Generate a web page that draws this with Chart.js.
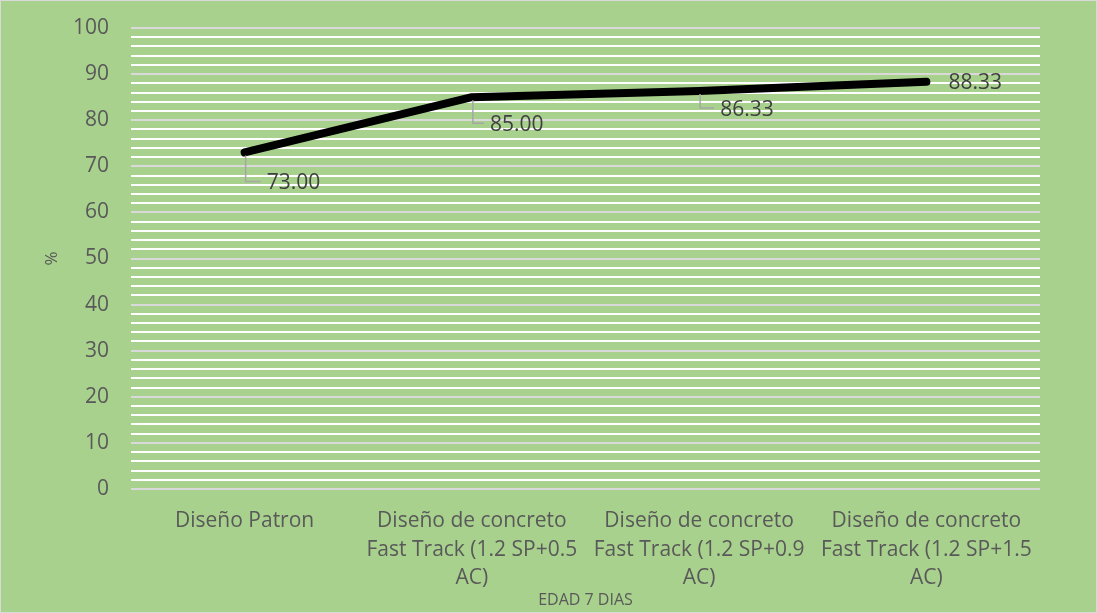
<!DOCTYPE html>
<html>
<head>
<meta charset="utf-8">
<script src="https://cdn.jsdelivr.net/npm/chart.js@4.4.1/dist/chart.umd.min.js"></script>
<style>
  html, body { margin: 0; padding: 0; background: #a9d18e; }
  #wrap { width: 1097px; height: 613px; }
</style>
</head>
<body>
<div id="wrap"><canvas id="c"></canvas></div>
<script>
const categories = [
    'Diseño Patron',
    ['Diseño de concreto', 'Fast Track (1.2 SP+0.5', 'AC)'],
    ['Diseño de concreto', 'Fast Track (1.2 SP+0.9', 'AC)'],
    ['Diseño de concreto', 'Fast Track (1.2 SP+1.5', 'AC)']
];
const values = [73.00, 85.00, 86.33, 88.33];
const yTicks = [0, 10, 20, 30, 40, 50, 60, 70, 80, 90, 100];

const FONT = "'Open Sans', sans-serif";

// fondo verde y borde del grafico
const bgPlugin = {
    id: 'bg',
    beforeDraw(chart) {
        const ctx = chart.ctx;
        ctx.save();
        ctx.fillStyle = '#a9d18e';
        ctx.fillRect(0, 0, chart.width, chart.height);
        ctx.strokeStyle = '#d9d9d9';
        ctx.lineWidth = 1;
        ctx.strokeRect(0.5, 0.5, chart.width - 1, chart.height - 1);
        ctx.restore();
    }
};

// etiquetas de datos con linea guia (como en Excel)
const labelOffsets = [[22, 31], [18, 28], [21, 19], [22, 1]];
const dataLabels = {
    id: 'dataLabels',
    afterDatasetsDraw(chart) {
        const ctx = chart.ctx;
        const meta = chart.getDatasetMeta(0);
        ctx.save();
        ctx.font = '21px ' + FONT;
        ctx.textBaseline = 'middle';
        ctx.textAlign = 'left';
        meta.data.forEach((pt, i) => {
            const [dx, dy] = labelOffsets[i];
            const x = pt.x, y = pt.y;
            if (dy > 10) {
                ctx.strokeStyle = '#a6a6a6';
                ctx.lineWidth = 1.5;
                ctx.beginPath();
                ctx.moveTo(x + 1, y + 3);
                ctx.lineTo(x + 1, y + dy - 2);
                ctx.lineTo(x + dx - 6, y + dy - 2);
                ctx.stroke();
            }
            ctx.fillStyle = '#404040';
            ctx.fillText(values[i].toFixed(2), x + dx, y + dy);
        });
        ctx.restore();
    }
};

const ctx = document.getElementById('c').getContext('2d');
new Chart(ctx, {
    type: 'line',
    data: {
        labels: categories,
        datasets: [{
            data: values,
            borderColor: '#000000',
            borderWidth: 8,
            borderCapStyle: 'round',
            borderJoinStyle: 'round',
            pointRadius: 0,
            tension: 0,
            fill: false
        }]
    },
    options: {
        responsive: true,
        maintainAspectRatio: false,
        animation: false,
        layout: { padding: { left: 30, right: 57, top: 28, bottom: 3 } },
        plugins: {
            legend: { display: false },
            tooltip: { enabled: false }
        },
        scales: {
            x: {
                offset: true,
                grid: { display: false, drawTicks: false },
                border: { display: false },
                ticks: {
                    color: '#595959',
                    font: { family: FONT, size: 21, lineHeight: 1.35 },
                    padding: 18,
                    maxRotation: 0,
                    autoSkip: false
                },
                title: {
                    display: true,
                    text: 'EDAD 7 DIAS',
                    color: '#595959',
                    font: { family: FONT, size: 16 },
                    padding: 0
                },
                afterFit(s) {
                    s.height = 613 - 489 - 3;
                    s.paddingLeft = 0; s.paddingRight = 0;
                }
            },
            y: {
                min: 0,
                max: 100,
                grid: {
                    drawTicks: false,
                    lineWidth: 2,
                    color: c => (c.tick && c.tick.value % 10 === 0) ? '#d9d9d9' : '#ffffff'
                },
                border: { display: false },
                afterBuildTicks(s) {
                    const t = [];
                    for (let v = 0; v <= 100; v += 2) t.push({ value: v });
                    s.ticks = t;
                },
                ticks: {
                    autoSkip: false,
                    color: '#595959',
                    font: { family: FONT, size: 21 },
                    padding: 22,
                    callback: v => yTicks.includes(v) ? String(v) : ''
                },
                title: {
                    display: true,
                    text: '%',
                    color: '#595959',
                    font: { family: FONT, size: 17 },
                    padding: { top: 12, bottom: 0 }
                },
                afterFit(s) {
                    s.width = 131 - 30;
                    s.paddingTop = 0; s.paddingBottom = 0;
                }
            }
        }
    },
    plugins: [bgPlugin, dataLabels]
});
</script>
</body>
</html>
